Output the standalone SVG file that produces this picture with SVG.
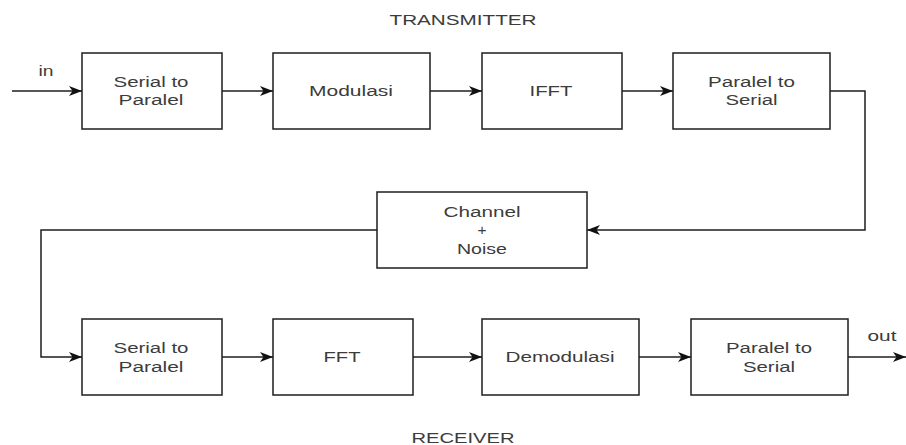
<svg xmlns="http://www.w3.org/2000/svg" width="906" height="445" viewBox="0 0 906 445">
<style>
.box{fill:#fff;stroke:#1e1e1e;stroke-width:1.5}
.t{font-family:"Liberation Sans",Arial,sans-serif;font-size:15.5px;fill:#3c3c3c;text-anchor:middle}
.c{fill:none;stroke:#1e1e1e;stroke-width:1.5}
</style>
<defs>
<marker id="ah" markerUnits="userSpaceOnUse" markerWidth="14" markerHeight="11" refX="13" refY="5" orient="auto" overflow="visible">
<path d="M0,0 L13,5 L0,10 L3.5,5 Z" fill="#111"/>
</marker>
</defs>
<rect width="906" height="445" fill="#fff"/>
<g id="labels">
<text class="t" x="463" y="25" textLength="147" lengthAdjust="spacingAndGlyphs">TRANSMITTER</text>
<text class="t" x="463" y="443" textLength="103" lengthAdjust="spacingAndGlyphs">RECEIVER</text>
<text class="t" x="46" y="76" textLength="15" lengthAdjust="spacingAndGlyphs">in</text>
<text class="t" x="882" y="341" textLength="29" lengthAdjust="spacingAndGlyphs">out</text>
</g>
<g id="connectors">
<path class="c" d="M12,91 H82" marker-end="url(#ah)"/>
<path class="c" d="M222,91 H273" marker-end="url(#ah)"/>
<path class="c" d="M430,91 H482" marker-end="url(#ah)"/>
<path class="c" d="M622,91 H673" marker-end="url(#ah)"/>
<path class="c" d="M830,91 H865 V230 H587" marker-end="url(#ah)"/>
<path class="c" d="M377,230 H41 V357 H82" marker-end="url(#ah)"/>
<path class="c" d="M222,357 H273" marker-end="url(#ah)"/>
<path class="c" d="M413,357 H482" marker-end="url(#ah)"/>
<path class="c" d="M639,357 H691" marker-end="url(#ah)"/>
<path class="c" d="M848,357 H906" marker-end="url(#ah)"/>
</g>
<g id="tx-s2p">
<rect class="box" x="82" y="53" width="140" height="76"/>
<text class="t" x="151" y="87" textLength="75" lengthAdjust="spacingAndGlyphs">Serial to</text>
<text class="t" x="151" y="105" textLength="65" lengthAdjust="spacingAndGlyphs">Paralel</text>
</g>
<g id="tx-mod">
<rect class="box" x="273" y="53" width="157" height="76"/>
<text class="t" x="351" y="96" textLength="84" lengthAdjust="spacingAndGlyphs">Modulasi</text>
</g>
<g id="tx-ifft">
<rect class="box" x="482" y="53" width="140" height="76"/>
<text class="t" x="551" y="96" textLength="43" lengthAdjust="spacingAndGlyphs">IFFT</text>
</g>
<g id="tx-p2s">
<rect class="box" x="673" y="53" width="157" height="76"/>
<text class="t" x="751.5" y="87" textLength="87" lengthAdjust="spacingAndGlyphs">Paralel to</text>
<text class="t" x="751.5" y="105" textLength="52" lengthAdjust="spacingAndGlyphs">Serial</text>
</g>
<g id="channel">
<rect class="box" x="377" y="192" width="210" height="76"/>
<text class="t" x="482" y="217" textLength="77" lengthAdjust="spacingAndGlyphs">Channel</text>
<text class="t" x="482" y="235">+</text>
<text class="t" x="482" y="254" textLength="50" lengthAdjust="spacingAndGlyphs">Noise</text>
</g>
<g id="rx-s2p">
<rect class="box" x="82" y="319" width="140" height="76"/>
<text class="t" x="151" y="353" textLength="75" lengthAdjust="spacingAndGlyphs">Serial to</text>
<text class="t" x="151" y="372" textLength="65" lengthAdjust="spacingAndGlyphs">Paralel</text>
</g>
<g id="rx-fft">
<rect class="box" x="273" y="319" width="140" height="76"/>
<text class="t" x="342" y="362" textLength="37" lengthAdjust="spacingAndGlyphs">FFT</text>
</g>
<g id="rx-demod">
<rect class="box" x="482" y="319" width="157" height="76"/>
<text class="t" x="560" y="362" textLength="109" lengthAdjust="spacingAndGlyphs">Demodulasi</text>
</g>
<g id="rx-p2s">
<rect class="box" x="691" y="319" width="157" height="76"/>
<text class="t" x="769" y="353" textLength="86" lengthAdjust="spacingAndGlyphs">Paralel to</text>
<text class="t" x="769" y="372" textLength="52" lengthAdjust="spacingAndGlyphs">Serial</text>
</g>
</svg>
